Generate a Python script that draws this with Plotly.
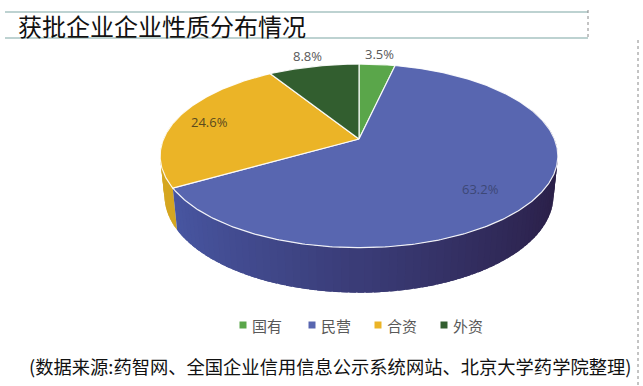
import math
import plotly.graph_objects as go

# ---- data ----
categories = ["国有", "民营", "合资", "外资"]
shares = [3.5, 63.2, 24.6, 8.8]
label_texts = ["3.5%", "63.2%", "24.6%", "8.8%"]
title_text = "获批企业企业性质分布情况"
source_text = "(数据来源:药智网、全国企业信用信息公示系统网站、北京大学药学院整理)"

# ---- styles ----
top_colors = ["#5aa64a", "#5866b0", "#ebb427", "#325e2f"]
wall_left = [(70, 130, 55), (74, 90, 168), (214, 167, 32), (40, 80, 38)]
wall_right = [(50, 100, 40), (42, 30, 70), (190, 145, 25), (30, 65, 30)]
label_colors = ["#595959", "#3d4876", "#5a4a1e", "#595959"]

W, H = 643, 386
CX, CY = 359, 139          # pie vertex in pixels
ELEV = math.radians(27)
C, S = math.cos(ELEV), math.sin(ELEV)
D, F, THICK = 4.85, 948.0, 0.23


def proj(x, y, z):
    yp = y * C + z * S
    zp = -y * S + z * C
    d = D + zp
    return CX + F * x / d, CY - F * yp / d


def arc(a0, a1, y, n):
    pts = []
    for i in range(n + 1):
        t = math.radians(a0 + (a1 - a0) * i / n)
        pts.append(proj(math.sin(t), y, math.cos(t)))
    return pts


def mix(c0, c1, f):
    return "rgb(%d,%d,%d)" % tuple(round(c0[k] + (c1[k] - c0[k]) * f) for k in range(3))


fig = go.Figure()

total = sum(shares)
bounds = []
acc = 0.0
for v in shares:
    a0 = acc / total * 360
    acc += v
    bounds.append((a0, acc / total * 360))

# walls (outer rim), as overlapping strips, back to front
strips = []
for i, (a0, a1) in enumerate(bounds):
    n = max(1, int((a1 - a0) / 2))
    for k in range(n):
        s0 = a0 + (a1 - a0) * k / n
        s1 = a0 + (a1 - a0) * (k + 1) / n
        mid = math.radians((s0 + s1) / 2)
        zmid = math.cos(mid)
        if zmid > 0.35:
            continue
        f = (math.sin(mid) + 1) / 2  # 0 left, 1 right
        col = mix(wall_left[i], wall_right[i], f)
        e0 = max(a0, s0 - 0.8)
        e1 = min(a1, s1 + 0.8)
        top = arc(e0, e1, 0, 3)
        bot = arc(e0, e1, -THICK, 3)[::-1]
        pts = top + bot + [top[0]]
        strips.append((zmid, pts, col))
strips.sort(key=lambda s: -s[0])
for _, pts, col in strips:
    fig.add_trace(go.Scatter(
        x=[p[0] for p in pts], y=[p[1] for p in pts], mode="lines",
        fill="toself", fillcolor=col, line=dict(width=0),
        hoverinfo="skip", showlegend=False))

# top faces
for i, (a0, a1) in enumerate(bounds):
    n = max(4, int((a1 - a0) * 1.5))
    pts = [proj(0, 0, 0)] + arc(a0, a1, 0, n) + [proj(0, 0, 0)]
    fig.add_trace(go.Scatter(
        x=[p[0] for p in pts], y=[p[1] for p in pts], mode="lines",
        fill="toself", fillcolor=top_colors[i],
        line=dict(color="rgba(255,255,255,0.9)", width=1.2),
        hoverinfo="skip", showlegend=False, name=categories[i]))

# data labels
label_pos = [(1.17, 0), (0.76, 6), (0.82, 0), (1.17, 0)]
for i, (a0, a1) in enumerate(bounds):
    r, da = label_pos[i]
    t = math.radians((a0 + a1) / 2 + da)
    lx, ly = proj(r * math.sin(t), 0, r * math.cos(t))
    fig.add_annotation(x=lx, y=ly, text=label_texts[i], showarrow=False,
                       font=dict(family="Open Sans, Liberation Sans", size=13,
                                 color=label_colors[i]))

# legend (manual)
leg_x = [243, 312, 378, 444]
for i, cat in enumerate(categories):
    fig.add_trace(go.Scatter(x=[leg_x[i]], y=[325], mode="markers",
                             marker=dict(symbol="square", size=7, color=top_colors[i]),
                             hoverinfo="skip", showlegend=False))
    fig.add_annotation(x=leg_x[i] + 7, y=325, text=cat, showarrow=False,
                       xanchor="left", font=dict(family="Noto Sans CJK SC", size=15,
                                                 color="#595959"))

# title box
fig.add_shape(type="line", x0=5, x1=588, y0=12, y1=12, line=dict(color="#a7c3c2", width=1.5))
fig.add_shape(type="line", x0=5, x1=588, y0=38, y1=38, line=dict(color="#a7c3c2", width=1.5))
fig.add_shape(type="line", x0=588, x1=588, y0=10, y1=40, line=dict(color="#888", width=1, dash="dot"))
fig.add_shape(type="line", x0=638, x1=638, y0=40, y1=386, line=dict(color="#888", width=1, dash="dot"))
fig.add_annotation(x=16, y=25, text=title_text, showarrow=False, xanchor="left",
                   font=dict(family="Noto Sans CJK SC", size=24, color="#111111"))
fig.add_annotation(x=330, y=366, text=source_text, showarrow=False, xanchor="center",
                   font=dict(family="Noto Sans CJK SC", size=18.3, color="#111111"))

fig.update_layout(
    width=W, height=H, margin=dict(l=0, r=0, t=0, b=0),
    paper_bgcolor="white", plot_bgcolor="white",
    xaxis=dict(range=[0, W], visible=False, fixedrange=True),
    yaxis=dict(range=[H, 0], visible=False, fixedrange=True),
    showlegend=False,
)
fig.write_html("out.html", config={"displayModeBar": False},
               post_script="document.body.style.margin='0';document.body.style.padding='0';document.body.style.overflow='hidden';")
